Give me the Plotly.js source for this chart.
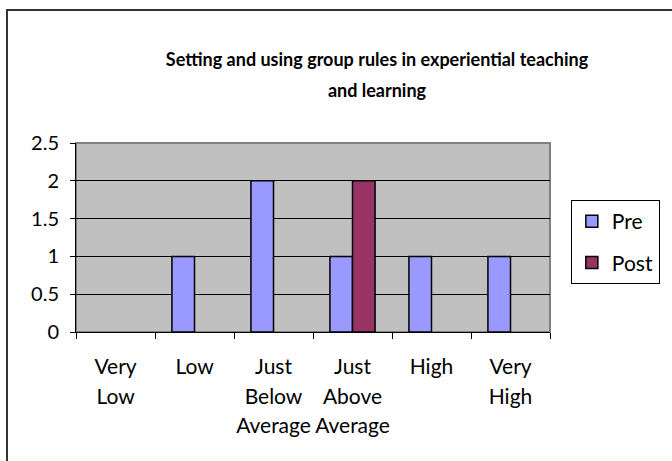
<!DOCTYPE html>
<html><head><meta charset="utf-8">
<script src="https://cdn.plot.ly/plotly-3.0.1.min.js"></script>
<style>
html,body{margin:0;padding:0;background:#fff;overflow:hidden;width:672px;height:461px}
#frame{position:absolute;left:6px;top:9px;width:800px;height:600px;border:2px solid #333;box-sizing:border-box;pointer-events:none}
</style>
</head><body>
<div id="chart" style="width:672px;height:461px;"></div>
<div id="frame"></div>
<script>
const categories = ["Very Low","Low","Just Below Average","Just Above Average","High","Very High"];
const tickLines = [["Very","Low"],["Low"],["Just","Below","Average"],["Just","Above","Average"],["High"],["Very","High"]];
const preValues = [null,1,2,1,1,1];
const postValues = [null,null,null,2,null,null];
const yTickVals = [0,0.5,1,1.5,2,2.5];
const yTickText = ["0","0.5","1","1.5","2","2.5"];
const seriesNames = ["Pre","Post"];
const titleLines = ["Setting and using group rules in experiential teaching","and learning"];

const FONT = "Lato, 'Open Sans', sans-serif";
const sp = (t, s) => `<span style="font-size:${s}px">${t}</span>`;

const traces = [
  {type:'bar', name:seriesNames[0], x:categories, y:preValues, legendgroup:'a',
   marker:{color:'#9999FF', line:{color:'#000', width:1.5}}},
  {type:'bar', name:seriesNames[1], x:categories, y:postValues, legendgroup:'b',
   marker:{color:'#993366', line:{color:'#000', width:1.5}}}
];

const layout = {
  width:672, height:461,
  margin:{l:76, r:99, t:143, b:129},
  paper_bgcolor:'rgba(0,0,0,0)', plot_bgcolor:'#C0C0C0',
  font:{family:FONT, color:'#000', size:20},
  title:{text:titleLines.map(t=>sp('<b>'+t+'</b>',18)).join('<br>'), font:{family:FONT, size:24, color:'#000'},
         x:377/672, xref:'container', xanchor:'center', y:1-66/461, yref:'container', yanchor:'top'},
  barmode:'group', bargap:0.4286, bargroupgap:0,
  showlegend:true,
  legend:{x:1.044, y:0.698, xanchor:'left', yanchor:'top', bordercolor:'#000', borderwidth:1,
          font:{family:FONT, size:21}, tracegroupgap:11, bgcolor:'#fff', itemwidth:30},
  xaxis:{type:'category', categoryarray:categories, categoryorder:'array',
         tickvals:categories, ticktext:tickLines.map(l=>l.map(w=>sp(w,21)).join('<br>')),
         tickfont:{family:FONT, size:23}, tickangle:0, ticks:'outside', tickson:'boundaries', ticklen:6, tickcolor:'#000',
         showline:true, linecolor:'#000', linewidth:1, showgrid:false, ticklabelstandoff:13},
  yaxis:{range:[0,2.5], tickvals:yTickVals, ticktext:yTickText, ticks:'outside', ticklen:5, tickcolor:'#000',
         tickfont:{family:FONT, size:20}, showline:true, linecolor:'#000', linewidth:1,
         showgrid:true, gridcolor:'#000', gridwidth:1, zeroline:false, ticklabelstandoff:7},
  shapes:[{type:'rect', xref:'paper', yref:'paper', x0:0, x1:1, y0:0, y1:1, line:{color:'#808080', width:2}, layer:'below'}]
};
Plotly.newPlot('chart', traces, layout, {displayModeBar:false, staticPlot:true});
</script>
</body></html>
